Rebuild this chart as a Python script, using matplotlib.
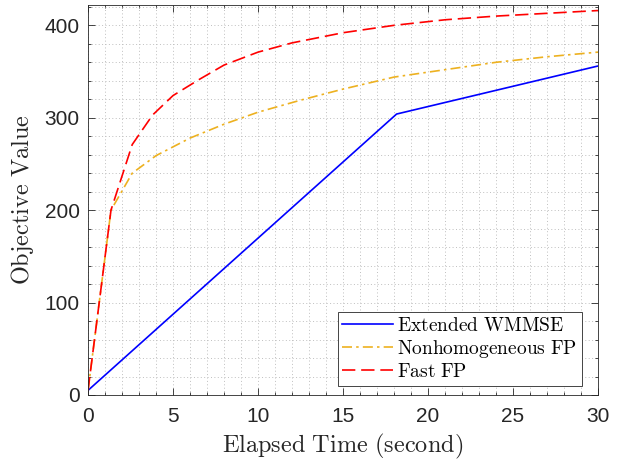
import numpy as np
import matplotlib
matplotlib.use("Agg")
import matplotlib.pyplot as plt
from matplotlib.ticker import MultipleLocator

# --- data ---
t_wmmse = [0, 18.15, 30]
v_wmmse = [5, 304, 356]

t_nhfp = [0, 1.35, 2.6, 4.0, 6.0, 8.0, 10.0, 12.5, 15.0, 18.0, 21.0, 24.0, 27.0, 30.0]
v_nhfp = [5, 200, 240, 259, 278, 293, 306, 319, 331, 344, 352, 360, 366, 371]

t_fast = [0, 1.35, 2.6, 3.8, 5.0, 6.5, 8.0, 10.0, 12.0, 15.0, 18.0, 21.0, 24.0, 27.0, 30.0]
v_fast = [5, 200, 271, 303, 324, 341, 357, 371, 381, 392, 400, 406, 410, 413, 416]

labels = ["Extended WMMSE", "Nonhomogeneous FP", "Fast FP"]

plt.rcParams["mathtext.fontset"] = "cm"
plt.rcParams["font.family"] = ["Liberation Sans", "DejaVu Sans"]

fig = plt.figure(figsize=(6.23, 4.63), dpi=100)
ax = fig.add_axes([0.1413, 0.1469, 0.8186, 0.8423])

edge = (0.15, 0.15, 0.15)


def tex(s):
    return r"$\mathrm{%s}$" % s.replace(" ", r"\ ")


ax.plot(t_wmmse, v_wmmse, color=(0, 0, 1), lw=1.2, label=tex(labels[0]))
ax.plot(t_nhfp, v_nhfp, color="#EDB120", lw=1.2, linestyle=(0, (6, 2.5, 1.5, 2.5)),
        label=tex(labels[1]))
ax.plot(t_fast, v_fast, color=(1, 0, 0), lw=1.2, linestyle=(0, (8, 3.5)),
        label=tex(labels[2]))

ax.set_xlim(0, 30)
ax.set_ylim(0, 422)
ax.xaxis.set_major_locator(MultipleLocator(5))
ax.xaxis.set_minor_locator(MultipleLocator(1))
ax.yaxis.set_major_locator(MultipleLocator(100))
ax.yaxis.set_minor_locator(MultipleLocator(20))

ax.grid(True, which="both", linestyle=(0, (1, 2.5)), color=(0.75, 0.75, 0.75), linewidth=0.7)
ax.set_axisbelow(True)

ax.tick_params(which="both", direction="in", top=True, right=True, colors=edge,
               labelcolor=(0.15, 0.15, 0.15), labelsize=15, width=0.6)
ax.tick_params(which="major", length=5)
ax.tick_params(which="minor", length=2.5)
ax.tick_params(axis="x", pad=9)
ax.tick_params(axis="y", pad=6)
for s in ax.spines.values():
    s.set_color(edge)
    s.set_linewidth(0.6)

ax.set_xlabel(tex("Elapsed Time (second)"), fontsize=17.5, color=(0.15, 0.15, 0.15), labelpad=4)
ax.set_ylabel(tex("Objective Value"), fontsize=17.5, color=(0.15, 0.15, 0.15), labelpad=6)

leg = ax.legend(loc="lower right", bbox_to_anchor=(0.968, 0.024), borderaxespad=0,
                fontsize=14, fancybox=False, framealpha=1, edgecolor=edge,
                handlelength=2.6, handletextpad=0.2, labelspacing=0.15, borderpad=0.25)
leg.get_frame().set_linewidth(0.6)

fig.savefig("out.png", dpi=100)
